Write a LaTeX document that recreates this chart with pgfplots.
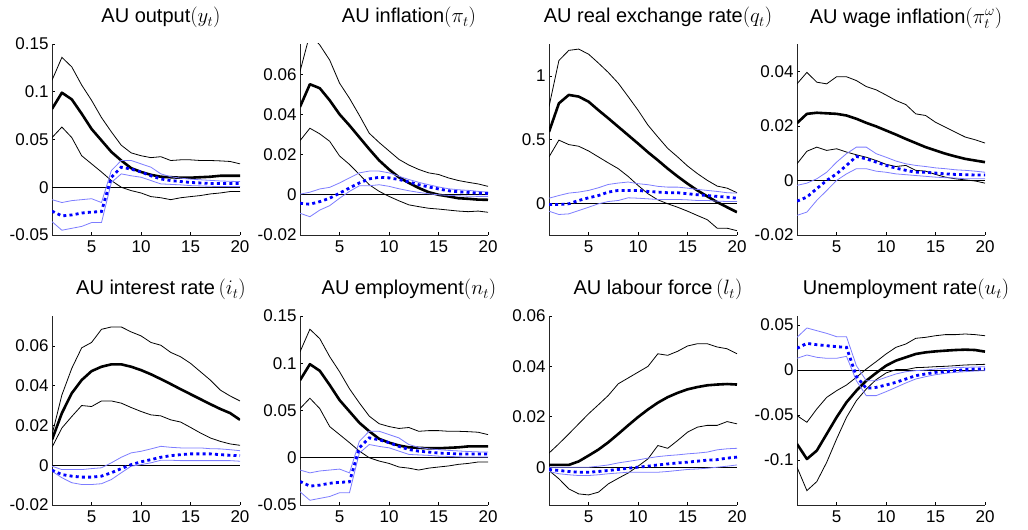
\documentclass[border=0pt]{standalone}
\usepackage{fontspec}
\setmainfont{Liberation Sans}
\usepackage{pgfplots}
\usepackage{pgfplotstable}
\pgfplotsset{compat=1.18}
\definecolor{bandblue}{RGB}{125,125,255}

\pgfplotstableread{
t bm bu bl cm cu cl
1 0.082 0.112 0.052 -0.025 -0.013 -0.036
2 0.099 0.136 0.063 -0.030 -0.016 -0.045
3 0.092 0.126 0.052 -0.029 -0.014 -0.043
4 0.077 0.107 0.033 -0.027 -0.013 -0.041
5 0.061 0.091 0.0245 -0.026 -0.012 -0.037
6 0.049 0.073 0.016 -0.0255 -0.016 -0.037
7 0.037 0.058 0.007 0.0105 0.0175 0.005
8 0.028 0.044 0.0 0.021 0.028 0.014
9 0.020 0.036 -0.0035 0.019 0.028 0.012
10 0.016 0.033 -0.006 0.016 0.0245 0.0105
11 0.013 0.031 -0.0098 0.012 0.021 0.007
12 0.011 0.032 -0.011 0.0087 0.014 0.0035
13 0.0105 0.028 -0.013 0.007 0.011 0.003
14 0.010 0.0287 -0.011 0.006 0.0095 0.0025
15 0.010 0.0287 -0.0098 0.005 0.0085 0.0017
16 0.0105 0.028 -0.0087 0.0045 0.0078 0.0014
17 0.011 0.028 -0.007 0.004 0.0072 0.001
18 0.012 0.0276 -0.006 0.004 0.0066 0.0007
19 0.012 0.027 -0.0045 0.004 0.0062 0.0007
20 0.012 0.0245 -0.0045 0.004 0.006 0.0007
}\tOut

\pgfplotstableread{
t bm bu bl cm cu cl
1 0.0437 0.0613 0.0269 -0.0042 0.0003 -0.0092
2 0.0550 0.0800 0.0331 -0.0047 0.0013 -0.0109
3 0.0530 0.0745 0.0303 -0.0034 0.0029 -0.0076
4 0.0470 0.0670 0.0266 -0.0017 0.0037 -0.0054
5 0.0400 0.0555 0.0193 0.0008 0.0059 -0.0017
6 0.0345 0.0480 0.0151 0.0034 0.0084 0.0017
7 0.0286 0.0395 0.0101 0.0059 0.0109 0.0045
8 0.0227 0.0306 0.0050 0.0079 0.0118 0.0045
9 0.0171 0.0260 0.0017 0.0087 0.0118 0.0050
10 0.0126 0.0218 -0.0008 0.0084 0.0109 0.0042
11 0.0087 0.0176 -0.0030 0.0076 0.0092 0.0030
12 0.0059 0.0148 -0.0050 0.0064 0.0076 0.0020
13 0.0034 0.0126 -0.0059 0.0050 0.0062 0.0012
14 0.0013 0.0109 -0.0067 0.0039 0.0050 0.0005
15 0.0000 0.0101 -0.0071 0.0029 0.0039 0.0000
16 -0.0008 0.0084 -0.0076 0.0020 0.0030 -0.0003
17 -0.0017 0.0071 -0.0081 0.0015 0.0025 -0.0005
18 -0.0020 0.0062 -0.0084 0.0012 0.0022 -0.0007
19 -0.0024 0.0054 -0.0081 0.0008 0.0017 -0.0008
20 -0.0025 0.0042 -0.0087 0.0007 0.0013 -0.0008
}\tInf

\pgfplotstableread{
t bm bu bl cm cu cl
1 0.56 0.758 0.363 -0.011 0.039 -0.063
2 0.784 1.12 0.495 -0.011 0.060 -0.089
3 0.85 1.20 0.46 -0.005 0.079 -0.084
4 0.837 1.21 0.447 0.021 0.087 -0.058
5 0.797 1.17 0.41 0.042 0.100 -0.032
6 0.73 1.10 0.363 0.060 0.121 -0.005
7 0.666 1.026 0.316 0.087 0.147 0.013
8 0.60 0.942 0.271 0.100 0.158 0.021
9 0.534 0.837 0.21 0.100 0.166 0.042
10 0.468 0.73 0.139 0.100 0.153 0.039
11 0.40 0.613 0.074 0.092 0.145 0.034
12 0.337 0.52 0.026 0.087 0.132 0.029
13 0.271 0.43 -0.005 0.082 0.126 0.029
14 0.21 0.363 -0.032 0.082 0.126 0.029
15 0.153 0.292 -0.063 0.074 0.118 0.026
16 0.10 0.232 -0.097 0.066 0.108 0.021
17 0.053 0.179 -0.13 0.060 0.100 0.021
18 0.008 0.134 -0.197 0.053 0.092 0.016
19 -0.032 0.118 -0.197 0.047 0.082 0.013
20 -0.071 0.082 -0.216 0.039 0.079 0.013
}\tRer

\pgfplotstableread{
t bm bu bl cm cu cl
1 0.0210 0.0354 0.0061 -0.0076 -0.0018 -0.0128
2 0.0244 0.0396 0.0107 -0.0061 -0.0010 -0.0116
3 0.0248 0.0360 0.0122 -0.0030 0.0006 -0.0073
4 0.0246 0.0354 0.0110 0.0000 0.0030 -0.0037
5 0.0244 0.0380 0.0116 0.0024 0.0067 0.0000
6 0.0238 0.0380 0.0104 0.0055 0.0098 0.0024
7 0.0226 0.0366 0.0094 0.0088 0.0122 0.0043
8 0.0211 0.0344 0.0085 0.0079 0.0122 0.0043
9 0.0198 0.0332 0.0073 0.0067 0.0098 0.0034
10 0.0183 0.0313 0.0059 0.0055 0.0085 0.0030
11 0.0168 0.0293 0.0051 0.0045 0.0071 0.0024
12 0.0152 0.0278 0.0055 0.0037 0.0061 0.0021
13 0.0137 0.0244 0.0037 0.0030 0.0055 0.0018
14 0.0122 0.0238 0.0034 0.0030 0.0051 0.0015
15 0.0110 0.0213 0.0022 0.0027 0.0046 0.0012
16 0.0098 0.0195 0.0012 0.0024 0.0043 0.0010
17 0.0088 0.0177 0.0006 0.0022 0.0039 0.0009
18 0.0079 0.0159 0.0002 0.0021 0.0037 0.0006
19 0.0073 0.0149 -0.0002 0.0020 0.0034 0.0006
20 0.0067 0.0137 -0.0010 0.0020 0.0030 0.0006
}\tWage

\pgfplotstableread{
t bm bu bl cm cu cl
1 0.0128 0.0153 0.0090 -0.0025 -0.0005 -0.0030
2 0.0262 0.0353 0.0187 -0.0047 -0.0022 -0.0063
3 0.0362 0.0487 0.0245 -0.0055 -0.0022 -0.0088
4 0.0428 0.0590 0.0300 -0.0060 -0.0022 -0.0097
5 0.0473 0.0617 0.0295 -0.0060 -0.0017 -0.0097
6 0.0495 0.0683 0.0323 -0.0055 -0.0013 -0.0093
7 0.0507 0.0695 0.0323 -0.0038 0.0012 -0.0072
8 0.0507 0.0695 0.0312 -0.0017 0.0040 -0.0038
9 0.0495 0.0670 0.0290 0.0003 0.0062 -0.0005
10 0.0478 0.0650 0.0270 0.0017 0.0070 0.0003
11 0.0457 0.0617 0.0253 0.0028 0.0082 0.0012
12 0.0433 0.0603 0.0248 0.0040 0.0095 0.0025
13 0.0408 0.0567 0.0228 0.0048 0.0090 0.0025
14 0.0382 0.0545 0.0217 0.0053 0.0087 0.0023
15 0.0357 0.0512 0.0190 0.0057 0.0087 0.0023
16 0.0332 0.0470 0.0162 0.0057 0.0087 0.0023
17 0.0307 0.0428 0.0137 0.0057 0.0083 0.0023
18 0.0283 0.0378 0.0120 0.0053 0.0082 0.0023
19 0.0262 0.0348 0.0107 0.0050 0.0078 0.0023
20 0.0228 0.0323 0.0100 0.0048 0.0073 0.0020
}\tInt

\pgfplotstableread{
t bm bu bl cm cu cl
1 0.0009 0.0056 -0.0013 -0.0009 0.0000 -0.0017
2 0.0009 0.0093 -0.0046 -0.0013 0.0000 -0.0026
3 0.0009 0.0132 -0.0086 -0.0017 0.0000 -0.0030
4 0.0023 0.0172 -0.0106 -0.0020 0.0000 -0.0033
5 0.0046 0.0212 -0.0110 -0.0020 0.0000 -0.0033
6 0.0070 0.0248 -0.0099 -0.0017 0.0004 -0.0030
7 0.0099 0.0285 -0.0066 -0.0013 0.0009 -0.0026
8 0.0132 0.0331 -0.0044 -0.0009 0.0017 -0.0023
9 0.0166 0.0354 -0.0023 -0.0004 0.0023 -0.0020
10 0.0199 0.0377 0.0004 0.0000 0.0029 -0.0020
11 0.0229 0.0400 0.0033 0.0004 0.0036 -0.0020
12 0.0256 0.0450 0.0086 0.0009 0.0042 -0.0020
13 0.0278 0.0444 0.0075 0.0013 0.0046 -0.0017
14 0.0295 0.0460 0.0106 0.0017 0.0049 -0.0013
15 0.0309 0.0481 0.0139 0.0020 0.0053 -0.0009
16 0.0318 0.0490 0.0159 0.0024 0.0056 -0.0007
17 0.0325 0.0490 0.0166 0.0028 0.0060 -0.0004
18 0.0328 0.0477 0.0166 0.0030 0.0069 0.0000
19 0.0330 0.0470 0.0181 0.0036 0.0073 0.0004
20 0.0328 0.0450 0.0172 0.0040 0.0075 0.0009
}\tLab

\pgfplotstableread{
t bm bu bl cm cu cl
1 -0.0822 -0.0507 -0.108 0.0241 0.0363 0.0130
2 -0.0989 -0.0581 -0.134 0.0296 0.0467 0.0167
3 -0.0896 -0.0433 -0.124 0.0281 0.0437 0.0141
4 -0.0711 -0.0304 -0.1026 0.0270 0.0407 0.0130
5 -0.0526 -0.0230 -0.0767 0.0259 0.0370 0.0130
6 -0.0359 -0.0167 -0.0526 0.0252 0.0370 0.0152
7 -0.0230 -0.0081 -0.0341 -0.0070 0.0048 -0.0119
8 -0.0119 0.0011 -0.0211 -0.0204 -0.0119 -0.0285
9 -0.0033 0.0093 -0.0107 -0.0193 -0.0119 -0.0285
10 0.0048 0.0178 -0.0033 -0.0167 -0.0081 -0.0241
11 0.0104 0.0252 0.0004 -0.0137 -0.0044 -0.0193
12 0.0141 0.0289 0.0004 -0.0100 -0.0019 -0.0144
13 0.0178 0.0352 0.0026 -0.0063 -0.0007 -0.0100
14 0.0196 0.0363 0.0030 -0.0044 0.0000 -0.0074
15 0.0207 0.0381 0.0037 -0.0026 0.0011 -0.0052
16 0.0215 0.0393 0.0041 -0.0019 0.0019 -0.0037
17 0.0222 0.0393 0.0048 -0.0007 0.0026 -0.0026
18 0.0226 0.0400 0.0056 0.0004 0.0030 -0.0019
19 0.0222 0.0393 0.0059 0.0011 0.0033 -0.0011
20 0.0204 0.0381 0.0063 0.0011 0.0037 -0.0007
}\tUne

\pgfplotsset{
  irf/.style={
    scale only axis, width=188pt,
    xmin=1, xmax=20, xtick={5,10,15,20}, xticklabels={5,10,15,20},
    scaled y ticks=false, scaled x ticks=false,
    axis x line*=bottom, axis y line*=left,
    axis line style={-, line width=0.8pt, black!85},
    tick align=inside, major tick length=2.5pt,
    tick style={line width=0.6pt, black},
    ticklabel style={font=\fontsize{17}{17}\selectfont},
    xticklabel style={yshift=-2pt},
    title style={font=\fontsize{20}{20}\selectfont, at={(0.5,1)}, anchor=base, yshift=15pt, xshift=15pt, inner sep=0pt},
    clip=true, anchor=south west,
  },
  row1/.style={height=191pt},
  row2/.style={height=189pt},
}
\newcommand{\irf}[1]{%
  \addplot[black, line width=0.7pt] coordinates {(1,0) (20,0)};
  \addplot[black, line width=0.8pt] table[x=t,y=bu]{#1};
  \addplot[black, line width=0.8pt] table[x=t,y=bl]{#1};
  \addplot[black, line width=2.6pt, line join=round] table[x=t,y=bm]{#1};
  \addplot[bandblue, line width=0.8pt] table[x=t,y=cu]{#1};
  \addplot[bandblue, line width=0.8pt] table[x=t,y=cl]{#1};
  \addplot[blue, line width=2.8pt, dash pattern=on 3pt off 3.2pt] table[x=t,y=cm]{#1};
}

\begin{document}
\begin{tikzpicture}
\useasboundingbox (0,0) rectangle (1028pt,530pt);
% row 1
\begin{axis}[irf, row1, at={(52pt,295pt)}, ymin=-0.05, ymax=0.15,
  ytick={-0.05,0,0.05,0.1,0.15}, yticklabels={-0.05,0,0.05,0.1,0.15},
  title={AU output$(y_t)$}]
\irf{\tOut}
\end{axis}
\begin{axis}[irf, row1, at={(300pt,295pt)}, ymin=-0.02, ymax=0.075,
  ytick={-0.02,0,0.02,0.04,0.06}, yticklabels={-0.02,0,0.02,0.04,0.06},
  title={AU inflation$(\pi_t)$}]
\irf{\tInf}
\end{axis}
\begin{axis}[irf, row1, at={(549pt,295pt)}, ymin=-0.25, ymax=1.25,
  ytick={0,0.5,1}, yticklabels={0,0.5,1},
  title={AU real exchange rate$(q_t)$}]
\irf{\tRer}
\end{axis}
\begin{axis}[irf, row1, at={(797pt,295pt)}, ymin=-0.02, ymax=0.05,
  ytick={-0.02,0,0.02,0.04}, yticklabels={-0.02,0,0.02,0.04},
  title={AU wage inflation$(\pi_t^{\omega})$}]
\irf{\tWage}
\end{axis}
% row 2
\begin{axis}[irf, row2, at={(52pt,25pt)}, ymin=-0.02, ymax=0.075,
  ytick={-0.02,0,0.02,0.04,0.06}, yticklabels={-0.02,0,0.02,0.04,0.06},
  title={AU interest rate$\,(i_t)$}]
\irf{\tInt}
\end{axis}
\begin{axis}[irf, row2, at={(300pt,25pt)}, ymin=-0.05, ymax=0.15,
  ytick={-0.05,0,0.05,0.1,0.15}, yticklabels={-0.05,0,0.05,0.1,0.15},
  title={AU employment$(n_t)$}]
\irf{\tOut}
\end{axis}
\begin{axis}[irf, row2, at={(549pt,25pt)}, ymin=-0.015, ymax=0.06,
  ytick={0,0.02,0.04,0.06}, yticklabels={0,0.02,0.04,0.06},
  title={AU labour force$\,(l_t)$}]
\irf{\tLab}
\end{axis}
\begin{axis}[irf, row2, at={(797pt,25pt)}, ymin=-0.15, ymax=0.06,
  ytick={-0.1,-0.05,0,0.05}, yticklabels={-0.1,-0.05,0,0.05},
  title={Unemployment rate$(u_t)$}]
\irf{\tUne}
\end{axis}
\end{tikzpicture}
\end{document}
